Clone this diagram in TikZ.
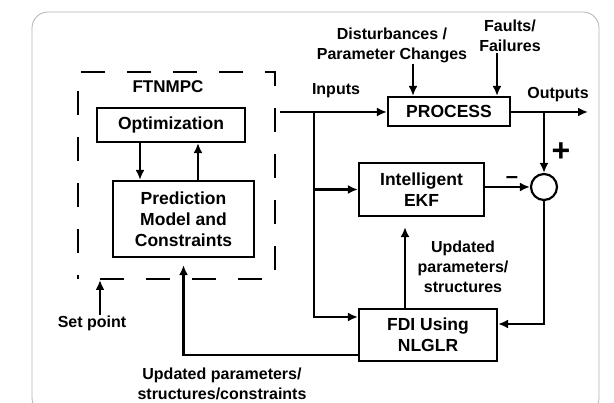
\documentclass[tikz,border=0pt]{standalone}
\usepackage{fontspec}
\setmainfont{Liberation Sans}
\usetikzlibrary{arrows.meta,positioning}

\tikzset{
  block/.style={draw, line width=2.2pt, align=center, inner sep=2pt,
    font=\bfseries\fontsize{17.5}{21}\selectfont},
  lbl/.style={align=center, inner sep=1pt, font=\bfseries\fontsize{16}{20}\selectfont},
  flow/.style={line width=2.2pt, -{Latex[length=10pt,width=9pt]}},
}

\begin{document}
\begin{tikzpicture}[x=1pt,y=-1pt]
    \useasboundingbox (0,0) rectangle (614,403);
    % Frame
    \begin{scope}
      \clip (0,0) rectangle (614,403);
      \draw[gray!60, line width=0.8pt, rounded corners=16pt] (32,12) rectangle (599,414);
    \end{scope}
    % FTNMPC controller
    \draw[line width=2.2pt, dash pattern=on 24pt off 22pt]
      (100,279) -- (275,279) -- (275,72) -- (78,72) -- (78,279);
    \node[lbl, font=\bfseries\fontsize{17}{20}\selectfont] (ftn) at (168,87) {FTNMPC};
    \node[block, minimum width=148pt, minimum height=34pt] (opt) at (171,125) {Optimization};
    \node[block, minimum width=141pt, minimum height=76pt] (pred) at (183.5,219) {Prediction\\Model and\\Constraints};
    \draw[flow] ([xshift=-31pt]opt.south) -- ([xshift=-31pt]opt.south |- pred.north);
    \draw[flow] ([xshift=14.5pt]pred.north) -- ([xshift=14.5pt]pred.north |- opt.south);
    % Plant and diagnosis
    \node[block, minimum width=122pt, minimum height=29pt] (proc) at (449,111.5) {PROCESS};
    \node[block, minimum width=125pt, minimum height=53pt] (ekf) at (421.5,189.5) {Intelligent\\EKF};
    \node[block, minimum width=138pt, minimum height=52pt] (fdi) at (428,335) {FDI Using\\NLGLR};
    \node[draw, circle, line width=2.2pt, minimum size=26pt, inner sep=0pt] (sum) at (544,187) {};
    % Labels
    \node[lbl] (inp) at (336,91) {Inputs};
    \node[lbl] (dist) at (392,45) {Disturbances /\\Parameter Changes};
    \node[lbl] (flt) at (510,36) {Faults/\\Failures};
    \node[lbl] (outp) at (558,95) {Outputs};
    \node[font=\bfseries\fontsize{32}{32}\selectfont] (plus) at (561,152) {+};
    \node[font=\bfseries\fontsize{22}{22}\selectfont] (minus) at (512,180) {–};
    \node[lbl] (upd) at (463,267) {Updated\\parameters/\\structures};
    \node[lbl] (setp) at (92,323) {Set point};
    \node[lbl] (upd2) at (222,384) {Updated parameters/\\structures/constraints};
    % Connectors
    \coordinate (in) at (280,112);
    \coordinate (j1) at (314,112);
    \coordinate (j2) at (544,112);
    \coordinate (out) at (588,112);
    \coordinate (sp) at (100,315);
    \coordinate (spend) at (100,280);
    \draw[flow] (in) -- (in -| proc.west);
    \draw[flow] (proc.east |- in) -- (out);
    \draw[flow] ([xshift=21pt]dist.south) -- ([xshift=21pt]dist.south |- proc.north);
    \draw[flow] ([xshift=-13pt]flt.south) -- ([xshift=-13pt]flt.south |- proc.north);
    \draw[flow] (j1) |- ([yshift=18pt]fdi.west);
    \draw[flow] (j1 |- ekf.west) -- (ekf.west);
    \draw[flow] (ekf.east |- sum) -- (sum.west);
    \draw[flow] (j2) -- (sum.north);
    \draw[flow] (sum.south) |- ([yshift=11pt]fdi.east);
    \draw[flow, shorten >=10pt] ([xshift=-23pt]fdi.north) -- ([xshift=-23pt]fdi.north |- ekf.south);
    \draw[flow, shorten >=7pt] ([yshift=-20pt]fdi.west) -| (pred.south);
    \draw[flow] (sp) -- (spend);
\end{tikzpicture}
\end{document}
